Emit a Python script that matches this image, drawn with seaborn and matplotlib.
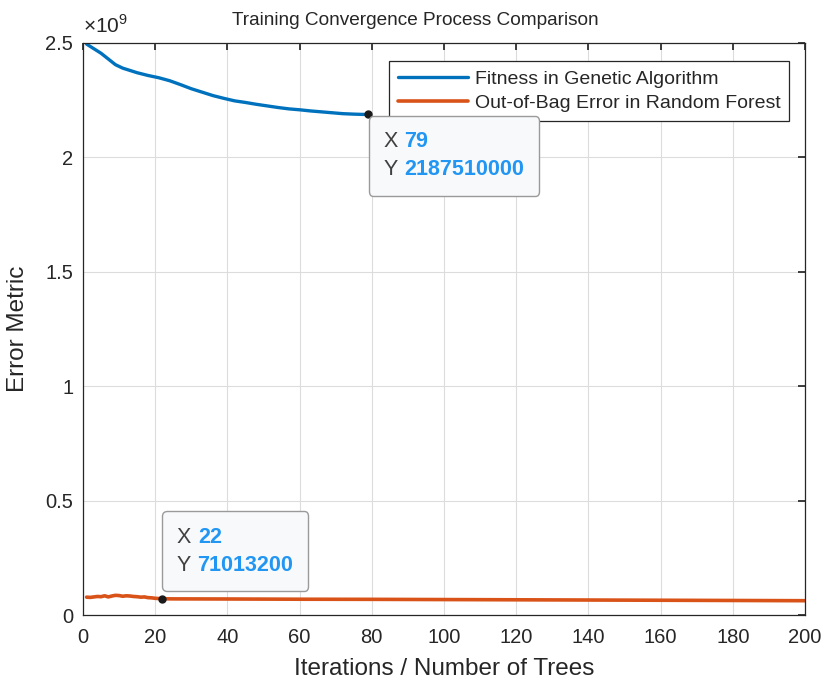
import numpy as np
import pandas as pd
import matplotlib
matplotlib.use("Agg")
import matplotlib.pyplot as plt
import seaborn as sns
from matplotlib.offsetbox import TextArea, HPacker, VPacker, AnnotationBbox
from matplotlib.ticker import FuncFormatter, MultipleLocator

# Genetic algorithm fitness
ga_iter = [1, 3, 5, 7, 9, 11, 13, 15, 18, 21, 24, 27, 30, 33, 36, 39, 42, 45,
           48, 51, 54, 57, 60, 63, 66, 69, 72, 75, 77, 79]
ga_fitness = [2.495e9, 2.475e9, 2.455e9, 2.430e9, 2.405e9, 2.390e9, 2.380e9,
              2.370e9, 2.358e9, 2.348e9, 2.335e9, 2.318e9, 2.300e9, 2.285e9,
              2.270e9, 2.258e9, 2.247e9, 2.240e9, 2.232e9, 2.225e9, 2.218e9,
              2.212e9, 2.208e9, 2.203e9, 2.199e9, 2.195e9, 2.191e9, 2.189e9,
              2.188e9, 2.18751e9]

# Random forest out-of-bag error
rf_trees = [1, 2, 3, 4, 5, 6, 7, 8, 9, 10, 11, 12, 13, 14, 15, 16, 17, 18, 19,
            20, 21, 22, 25, 40, 60, 80, 100, 120, 140, 160, 180, 200]
rf_oob = [7.8e7, 7.7e7, 7.9e7, 8.1e7, 8.0e7, 8.4e7, 7.9e7, 8.3e7, 8.6e7, 8.5e7,
          8.2e7, 8.4e7, 8.3e7, 8.1e7, 8.0e7, 7.8e7, 7.9e7, 7.6e7, 7.5e7, 7.3e7,
          7.2e7, 7.10132e7, 7.05e7, 7.0e7, 6.9e7, 6.85e7, 6.75e7, 6.65e7,
          6.55e7, 6.45e7, 6.35e7, 6.25e7]

# data tips: series, x, shown Y text
tips = [("ga", 79, "2187510000"), ("rf", 22, "71013200")]

sns.set_theme(style="white")
plt.rcParams["font.family"] = ["Liberation Sans", "DejaVu Sans"]
plt.rcParams["mathtext.fontset"] = "custom"
plt.rcParams["mathtext.rm"] = "Liberation Sans"

blue = "#0072BD"
orange = "#D95319"
tip_blue = "#2196F3"
dark = "#262626"

ga_df = pd.DataFrame({"x": ga_iter, "y": ga_fitness})
rf_df = pd.DataFrame({"x": rf_trees, "y": rf_oob})

fig = plt.figure(figsize=(8.25, 6.81), dpi=100)
ax = fig.add_axes([0.1006, 0.0969, 0.8752, 0.84])

sns.lineplot(data=ga_df, x="x", y="y", color=blue, linewidth=2.4,
             label="Fitness in Genetic Algorithm", ax=ax)
sns.lineplot(data=rf_df, x="x", y="y", color=orange, linewidth=2.6,
             label="Out-of-Bag Error in Random Forest", ax=ax)

ax.set_xlim(0, 200)
ax.set_ylim(0, 2.5e9)
ax.xaxis.set_major_locator(MultipleLocator(20))
ax.yaxis.set_major_locator(MultipleLocator(0.5e9))
ax.yaxis.set_major_formatter(FuncFormatter(lambda v, p: "%g" % (v / 1e9)))
ax.grid(True, color="#dcdcdc", linewidth=0.8)
ax.tick_params(direction="in", which="both", top=True, right=True,
               labelsize=14.5, colors=dark, length=5)
ax.tick_params(axis="x", pad=9)
ax.tick_params(axis="y", pad=7)
for s in ax.spines.values():
    s.set_color(dark)
    s.set_linewidth(0.9)

ax.set_xlabel("Iterations / Number of Trees", fontsize=17.5, color=dark,
              labelpad=8)
ax.set_ylabel("Error Metric", fontsize=17.5, color=dark, labelpad=12)
ax.set_title("Training Convergence Process Comparison", fontsize=13.7,
             color=dark, pad=13, x=0.46)
ax.text(0.0, 1.01, r"$\times10^{9}$", transform=ax.transAxes,
        fontsize=15, color=dark, va="bottom", ha="left")

leg = ax.legend(loc="upper right", bbox_to_anchor=(0.978, 0.968),
                fontsize=14, frameon=True, fancybox=False, framealpha=1,
                edgecolor=dark, handlelength=3.6, handletextpad=0.35,
                borderpad=0.45, labelspacing=0.35, borderaxespad=0)
leg.get_frame().set_linewidth(0.9)

# data tips
for series, xv, ytxt in tips:
    if series == "ga":
        yv = ga_fitness[ga_iter.index(xv)]
        align, off = (0, 1), (11.5, -12.2)
    else:
        yv = rf_oob[rf_trees.index(xv)]
        align, off = (0, 0), (10.8, 16.6)
    ax.plot([xv], [yv], "o", color="#1a1a1a", markersize=5, zorder=6)
    rows = []
    for lab, val in (("X ", str(xv)), ("Y ", ytxt)):
        rows.append(HPacker(children=[
            TextArea(lab, textprops=dict(color="#404040", fontsize=15.5)),
            TextArea(val, textprops=dict(color=tip_blue, fontsize=15.5,
                                         fontweight="bold"))],
            align="baseline", pad=0, sep=0))
    box = VPacker(children=rows, align="left", pad=0, sep=5)
    ab = AnnotationBbox(box, (xv, yv), xybox=off, xycoords="data",
                        boxcoords="offset points", box_alignment=align,
                        frameon=True,
                        bboxprops=dict(boxstyle="round,pad=1.0,rounding_size=0.3",
                                       facecolor="#f8f9fb", edgecolor="#9a9a9a",
                                       linewidth=1.0))
    ab.set_zorder(7)
    ax.add_artist(ab)

fig.savefig("out.png", dpi=100)
